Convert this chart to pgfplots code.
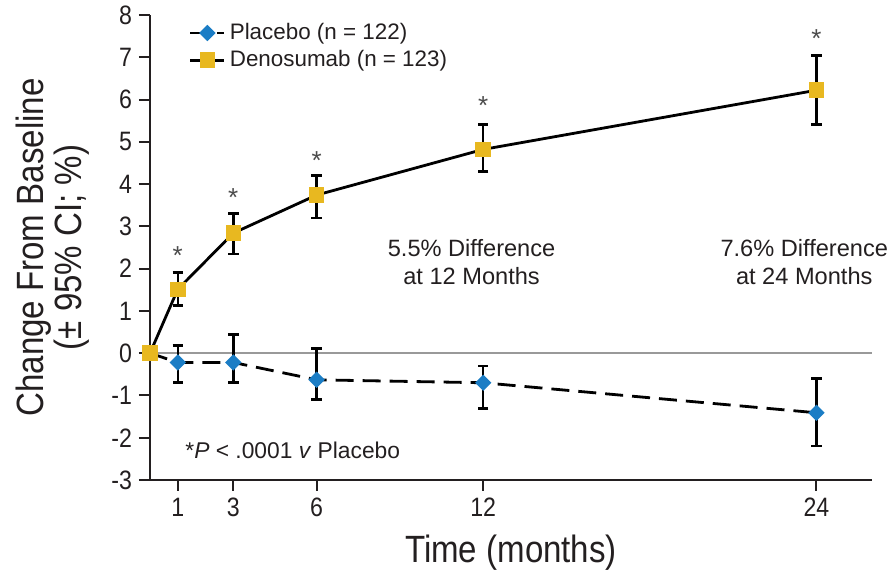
\documentclass[border=0pt]{standalone}
\usepackage{pgfplots}
\pgfplotsset{compat=1.18}
\usepackage{fontspec}
\setmainfont{Liberation Sans}
\newfontfamily\cond[FakeStretch=0.87]{Liberation Sans}
\definecolor{deno}{HTML}{E8B820}
\definecolor{plac}{HTML}{1B7DC5}
\definecolor{txt}{HTML}{231F20}
\begin{document}
\begin{tikzpicture}
\useasboundingbox (-75pt,-48pt) rectangle (370pt,240pt);
\begin{axis}[
  scale only axis, width=361pt, height=232.5pt,
  xmin=0, xmax=26, ymin=-3, ymax=8,
  clip=false,
  axis x line=bottom, axis y line=left,
  axis line style={-, line width=1.3pt, txt},
  xtick={1,3,6,12,24},
  xticklabel={\cond\fontsize{13.3}{15}\selectfont\pgfmathprintnumber[assume math mode=true]{\tick}},
  ytick={-3,-2,-1,0,1,2,3,4,5,6,7,8},
  yticklabels={-3,-2,-1,0,1,2,3,4,5,6,7,8},
  tick align=outside, major tick length=5.5pt,
  tick style={line width=1pt, txt},
  tick label style={font=\cond\fontsize{13.3}{15}\selectfont, text=txt},
  xlabel={Time (months)},
  xlabel style={font=\cond\fontsize{19}{22}\selectfont, text=txt, yshift=-2pt},
  ylabel={Change From Baseline\\(± 95\% CI; \%)},
  ylabel style={align=center, font=\cond\fontsize{19}{19}\selectfont, text=txt, yshift=4pt},
  legend style={at={(axis description cs:0.045,1.0)}, anchor=north west, draw=none, fill=none,
    font=\fontsize{11.2}{13}\selectfont, text=txt},
  legend cell align=left,
]
\addplot[gray!80, line width=1pt, forget plot] coordinates {(0,0) (26,0)};
\addplot[black, line width=1.4pt, dash pattern=on 9pt off 4.5pt,
  mark=square*, mark size=2.2pt, mark options={solid, fill=plac, draw=plac, rotate=45},
  error bars/.cd, y dir=both, y explicit,
  error bar style={solid, black, line width=1.2pt},
  error mark options={rotate=90, black, mark size=2.6pt, line width=1.2pt}]
coordinates {
  (0,0)
  (1,-0.22) += (0,0.40) -= (0,0.47)
  (3,-0.22) += (0,0.66) -= (0,0.47)
  (6,-0.63) += (0,0.74) -= (0,0.47)
  (12,-0.70) += (0,0.40) -= (0,0.61)
  (24,-1.41) += (0,0.81) -= (0,0.78)
};
\addlegendentry{Placebo (n = 122)}
\addplot[black, line width=1.4pt,
  mark=square*, mark size=3.2pt, mark options={solid, fill=deno, draw=deno},
  error bars/.cd, y dir=both, y explicit,
  error bar style={solid, black, line width=1.2pt},
  error mark options={rotate=90, black, mark size=2.6pt, line width=1.2pt}]
coordinates {
  (0,0)
  (1,1.51) += (0,0.40) -= (0,0.38)
  (3,2.84) += (0,0.46) -= (0,0.49)
  (6,3.74) += (0,0.46) -= (0,0.54)
  (12,4.82) += (0,0.59) -= (0,0.52)
  (24,6.22) += (0,0.82) -= (0,0.81)
};
\addlegendentry{Denosumab (n = 123)}
\addplot[draw=none, forget plot, nodes near coords={*},
  every node near coord/.style={anchor=center, font=\fontsize{13}{15}\selectfont, text=black!70}]
coordinates {(1,2.30) (3,3.68) (6,4.55) (12,5.86) (24,7.45)};
\node[align=center, font=\fontsize{11.8}{14}\selectfont, text=txt] at (axis cs:11.58,2.15)
  {5.5\% Difference\\at 12 Months};
\node[align=center, font=\fontsize{11.8}{14}\selectfont, text=txt] at (axis cs:23.56,2.15)
  {7.6\% Difference\\at 24 Months};
\node[anchor=west, font=\fontsize{11.4}{13}\selectfont, text=txt, inner sep=0pt] at (axis cs:1.26,-2.31)
  {*\textit{P} < .0001 \textit{v} Placebo};
\end{axis}
\end{tikzpicture}
\end{document}
